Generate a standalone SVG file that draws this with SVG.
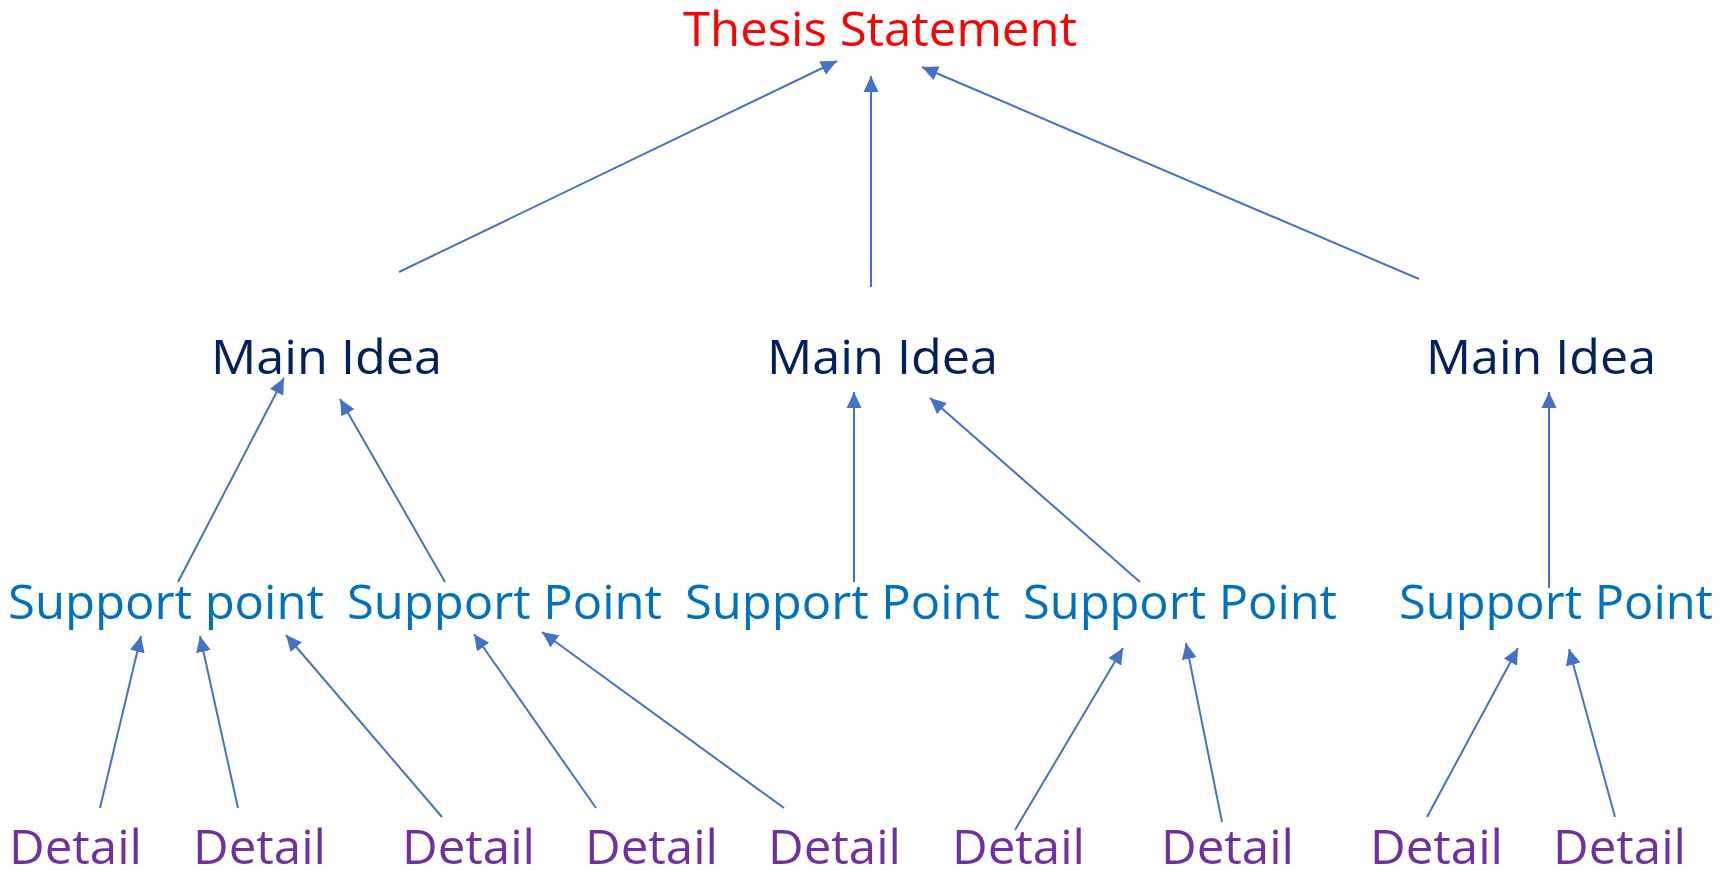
<svg xmlns="http://www.w3.org/2000/svg" width="1729" height="871" viewBox="0 0 1729 871">
<style>
text{font-family:"Open Sans","Noto Sans","Liberation Sans",sans-serif;font-size:48px}
.t{fill:#FF0000}
.m{fill:#002060}
.s{fill:#0070C0}
.d{fill:#7030A0}
.c line{stroke:#4472C4;stroke-width:2;fill:none;marker-end:url(#ah)}
</style>
<defs>
<marker id="ah" markerUnits="userSpaceOnUse" markerWidth="16" markerHeight="16" viewBox="0 0 16 16" refX="16" refY="8" orient="auto">
<path d="M0,0.5 L16,8 L0,15.5 z" fill="#4472C4"/>
</marker>
</defs>
<rect width="1729" height="871" fill="#FFFFFF"/>
<g class="c" id="connectors">
<line x1="399" y1="272" x2="837" y2="61"/>
<line x1="871" y1="287" x2="871" y2="76"/>
<line x1="1419" y1="279" x2="922" y2="67"/>
<line x1="178" y1="582" x2="284" y2="378"/>
<line x1="445" y1="582" x2="340" y2="399"/>
<line x1="854" y1="582" x2="854" y2="392"/>
<line x1="1140" y1="582" x2="930" y2="398"/>
<line x1="1549" y1="588" x2="1549" y2="392"/>
<line x1="100" y1="808" x2="141" y2="636"/>
<line x1="238" y1="808" x2="200" y2="636"/>
<line x1="442" y1="817" x2="286" y2="635"/>
<line x1="596" y1="808" x2="474" y2="634"/>
<line x1="784" y1="808" x2="542" y2="632"/>
<line x1="1015" y1="830" x2="1123" y2="648"/>
<line x1="1222" y1="822" x2="1186" y2="643"/>
<line x1="1427" y1="817" x2="1518" y2="648"/>
<line x1="1615" y1="817" x2="1569" y2="649"/>
</g>
<g id="thesis"><text class="t" x="683" y="46" textLength="394" lengthAdjust="spacingAndGlyphs">Thesis Statement</text></g>
<g id="main1"><text class="m" x="211" y="374" textLength="231" lengthAdjust="spacingAndGlyphs">Main Idea</text></g>
<g id="main2"><text class="m" x="767" y="374" textLength="231" lengthAdjust="spacingAndGlyphs">Main Idea</text></g>
<g id="main3"><text class="m" x="1426" y="374" textLength="230" lengthAdjust="spacingAndGlyphs">Main Idea</text></g>
<g id="sp1"><text class="s" x="8" y="619" textLength="316" lengthAdjust="spacingAndGlyphs">Support point</text></g>
<g id="sp2"><text class="s" x="347" y="619" textLength="315" lengthAdjust="spacingAndGlyphs">Support Point</text></g>
<g id="sp3"><text class="s" x="685" y="619" textLength="315" lengthAdjust="spacingAndGlyphs">Support Point</text></g>
<g id="sp4"><text class="s" x="1023" y="619" textLength="314" lengthAdjust="spacingAndGlyphs">Support Point</text></g>
<g id="sp5"><text class="s" x="1399" y="619" textLength="314" lengthAdjust="spacingAndGlyphs">Support Point</text></g>
<g id="d1"><text class="d" x="9" y="864" textLength="133" lengthAdjust="spacingAndGlyphs">Detail</text></g>
<g id="d2"><text class="d" x="193" y="864" textLength="133" lengthAdjust="spacingAndGlyphs">Detail</text></g>
<g id="d3"><text class="d" x="402" y="864" textLength="133" lengthAdjust="spacingAndGlyphs">Detail</text></g>
<g id="d4"><text class="d" x="585" y="864" textLength="133" lengthAdjust="spacingAndGlyphs">Detail</text></g>
<g id="d5"><text class="d" x="768" y="864" textLength="133" lengthAdjust="spacingAndGlyphs">Detail</text></g>
<g id="d6"><text class="d" x="952" y="864" textLength="133" lengthAdjust="spacingAndGlyphs">Detail</text></g>
<g id="d7"><text class="d" x="1161" y="864" textLength="133" lengthAdjust="spacingAndGlyphs">Detail</text></g>
<g id="d8"><text class="d" x="1370" y="864" textLength="133" lengthAdjust="spacingAndGlyphs">Detail</text></g>
<g id="d9"><text class="d" x="1553" y="864" textLength="133" lengthAdjust="spacingAndGlyphs">Detail</text></g>
</svg>
